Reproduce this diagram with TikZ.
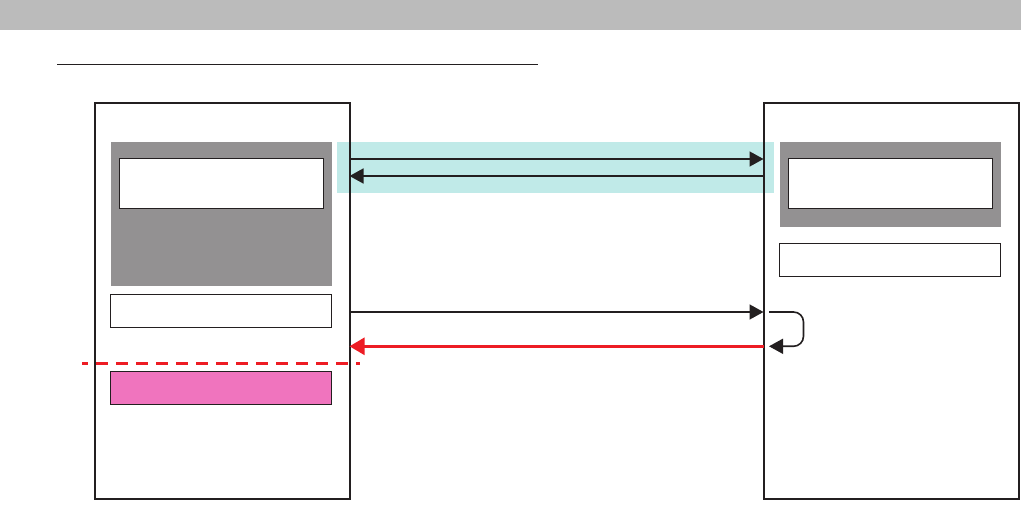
\documentclass[tikz,border=0pt]{standalone}
\usepackage{xcolor}
\usepackage{tikz}
\usetikzlibrary{positioning, arrows.meta}

\definecolor{barGray}{HTML}{BBBBBB}
\definecolor{panelGray}{HTML}{939192}
\definecolor{inkBlack}{HTML}{231F20}
\definecolor{linkRed}{HTML}{ED1C24}
\definecolor{bandCyan}{HTML}{C0EAE8}
\definecolor{markPink}{HTML}{F074BE}

\begin{document}
\begin{tikzpicture}[
            x=1pt, y=-1pt,
            every node/.style={
                    inner sep=0pt,
                    outer sep=0pt,
                    anchor=north west
                },
            frame/.style={
                    draw=inkBlack,
                    line width=2pt,
                    minimum width=255pt,
                    minimum height=396pt
                },
            panel/.style={
                    fill=panelGray,
                    minimum width=221pt
                },
            slot/.style={
                    draw=inkBlack,
                    fill=white,
                    line width=1pt,
                    minimum width=204pt,
                    minimum height=50pt
                },
            strip/.style={
                    draw=inkBlack,
                    line width=1pt,
                    minimum width=221pt,
                    minimum height=33pt
                },
            arrow/.style={
                    -{Triangle[length=14pt,width=15pt]},
                    draw=inkBlack,
                    line width=1.6pt
                },
            redarrow/.style={
                    -{Triangle[length=15pt,width=17pt]},
                    draw=linkRed,
                    line width=2.6pt
                }
        ]

        \useasboundingbox (0,0) rectangle (1021,505);

        % header bar and title rule
        \node[fill=barGray, minimum width=1021pt, minimum height=30pt]
        (header) at (0,0) {};
        \draw[inkBlack, line width=1.5pt] (57,64.5) -- (538,64.5);


        % cyan band behind the upper pair of arrows
        \node[fill=bandCyan, minimum width=437pt, minimum height=51pt]
        (band) at (337,142) {};


        % left side
        \node[frame] (leftbox) at (94.5,102.8) {};

        \node[panel, minimum height=144pt] (leftgray) at (111,142) {};

        \node[slot] (leftinner) at (119.7,158.7) {};

        \node[strip] (leftstrip) at (110.7,294.7) {};

        \node[strip, fill=markPink] (leftpink) at (110.7,371.7) {};


        % right side
        \node[frame] (rightbox) at (763.5,102.8) {};

        \node[panel, minimum height=85pt] (rightgray) at (780,142) {};

        \node[slot] (rightinner) at (788.7,158.7) {};

        \node[strip] (rightstrip) at (779.7,243.7) {};


        % rows of the connectors
        \coordinate (row1) at (0,159);
        \coordinate (row2) at (0,176);
        \coordinate (row3) at (0,312);
        \coordinate (row4) at (0,346.3);


        \draw[arrow] (leftbox.east |- row1) -- (rightbox.west |- row1);
        \draw[arrow] (rightbox.west |- row2) -- (leftbox.east |- row2);
        \draw[arrow] (leftbox.east |- row3) -- (rightbox.west |- row3);
        \draw[redarrow] (rightbox.west |- row4) -- (leftbox.east |- row4);

        \draw[arrow, rounded corners=10pt]
        ([xshift=5.5pt]rightbox.west |- row3) -- ++(34.5,0) -- ++(0,34.3)
        -- ([xshift=5.5pt]rightbox.west |- row4);


        % red dashed cut line
        \draw[linkRed, line width=2.6pt, dash pattern=on 12pt off 8pt, dash phase=6pt]
        (82,363.3) -- (360,363.3);


    \end{tikzpicture}
\end{document}
